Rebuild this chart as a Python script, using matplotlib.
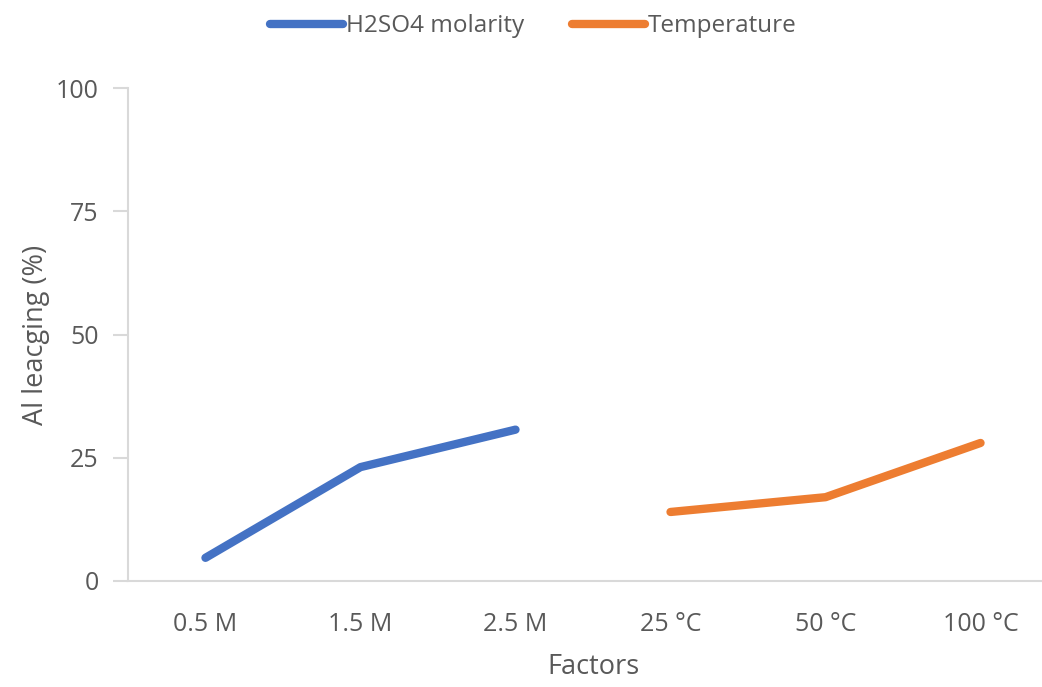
import matplotlib
matplotlib.use('Agg')
import matplotlib.pyplot as plt
from matplotlib.lines import Line2D

categories = ['0.5 M', '1.5 M', '2.5 M', '25 °C', '50 °C', '100 °C']
molarity_idx = [0, 1, 2]
molarity_vals = [4.7, 23.1, 30.7]
temp_idx = [3, 4, 5]
temp_vals = [14.0, 17.0, 28.0]
y_ticks = [0, 25, 50, 75, 100]

BLUE = '#4472C4'
ORANGE = '#ED7D31'
GREY_TXT = '#595959'
GREY_AX = '#D9D9D9'

plt.rcParams['font.family'] = ['Open Sans', 'DejaVu Sans']

fig = plt.figure(figsize=(10.42, 6.87), dpi=100)
ax = fig.add_axes([0.1228, 0.1543, 0.8926, 0.7176])

ax.plot(molarity_idx, molarity_vals, color=BLUE, lw=6, solid_capstyle='round')
ax.plot(temp_idx, temp_vals, color=ORANGE, lw=6, solid_capstyle='round')

ax.set_xlim(-0.5, len(categories) - 0.5)
ax.set_ylim(0, 100)
ax.set_xticks(range(len(categories)))
ax.set_xticklabels(categories)
ax.set_yticks(y_ticks)

for side in ('top', 'right'):
    ax.spines[side].set_visible(False)
for side in ('left', 'bottom'):
    ax.spines[side].set_color(GREY_AX)
    ax.spines[side].set_linewidth(1.5)

ax.tick_params(axis='x', length=0, pad=22, labelsize=18, labelcolor=GREY_TXT)
ax.tick_params(axis='y', length=11, width=1.5, color=GREY_AX, pad=10,
               labelsize=18, labelcolor=GREY_TXT)

ax.set_xlabel('Factors', fontsize=19.5, color=GREY_TXT, labelpad=12)
ax.set_ylabel('Al leacging (%)', fontsize=19.5, color=GREY_TXT, labelpad=4)

handles = [Line2D([], [], color=BLUE, lw=6, solid_capstyle='round'),
           Line2D([], [], color=ORANGE, lw=6, solid_capstyle='round')]
fig.legend(handles, ['H2SO4 molarity', 'Temperature'], loc='center',
           bbox_to_anchor=(0.512, 0.962), ncol=2, frameon=False,
           fontsize=17.5, labelcolor=GREY_TXT, handlelength=3.0,
           handletextpad=0.1, columnspacing=2.0)

fig.savefig('out.png', dpi=100)
